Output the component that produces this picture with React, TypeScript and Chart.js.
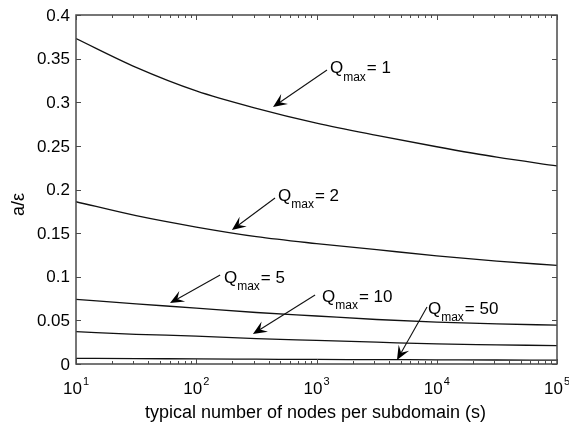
import React, { useEffect, useRef } from "react";
import { Chart, registerables } from "chart.js";

Chart.register(...registerables);

// ---- data ----
const S_VALUES = [10, 31.6, 100, 316, 1000, 3162, 10000, 31623, 100000];
const Q1 = [0.373, 0.34, 0.313, 0.293, 0.276, 0.262, 0.249, 0.237, 0.227];
const Q2 = [0.186, 0.17, 0.157, 0.146, 0.138, 0.131, 0.124, 0.118, 0.113];
const Q5 = [0.074, 0.069, 0.064, 0.059, 0.055, 0.051, 0.048, 0.046, 0.0445];
const Q10 = [0.037, 0.034, 0.032, 0.029, 0.027, 0.025, 0.023, 0.022, 0.021];
const Q50 = [0.0065, 0.0062, 0.0058, 0.0055, 0.0052, 0.005, 0.0048, 0.0046, 0.0045];

const Y_TICKS = [0, 0.05, 0.1, 0.15, 0.2, 0.25, 0.3, 0.35, 0.4];
const Y_TICK_LABELS = ["0", "0.05", "0.1", "0.15", "0.2", "0.25", "0.3", "0.35", "0.4"];
const X_DECADES = [1, 2, 3, 4, 5];
const X_TICK_BASE = "10";
const X_TITLE = "typical number of nodes per subdomain (s)";
const Y_TITLE = "a/\u03b5";

// annotations: label, text anchor, arrow tail, arrow tip (data coordinates)
const ANN_LABELS = ["1", "2", "5", "10", "50"];
const ANN_TEXT = [[1294, 0.339], [479, 0.1926], [170, 0.0986], [1112, 0.0768], [8453, 0.063]];
const ANN_TAIL = [[1223, 0.337], [452, 0.1903], [158, 0.102], [973, 0.0791], [8300, 0.0653]];
const ANN_TIP = [[435, 0.2946], [198, 0.1536], [60.5, 0.0699], [296, 0.0344], [4670, 0.0046]];

const FONT = '"Liberation Sans", Arial, Helvetica, sans-serif';
const FRAME = "#4a4a4a";

const axesPlugin = {
  id: "matlabAxes",
  afterDatasetsDraw(chart: any) {
    const { ctx, chartArea } = chart;
    const xs = chart.scales.x;
    const ys = chart.scales.y;
    const { left, right, top, bottom } = chartArea;
    ctx.save();
    // frame
    ctx.strokeStyle = FRAME;
    ctx.lineWidth = 1.5;
    ctx.strokeRect(left, top, right - left, bottom - top);
    ctx.lineWidth = 1;
    ctx.beginPath();
    // y ticks
    Y_TICKS.forEach((v) => {
      const y = Math.round(ys.getPixelForValue(v)) + 0.5;
      ctx.moveTo(left, y);
      ctx.lineTo(left + 5, y);
      ctx.moveTo(right, y);
      ctx.lineTo(right - 5, y);
    });
    // x ticks (major + minor)
    X_DECADES.forEach((d, i) => {
      const base = Math.pow(10, d);
      const x = Math.round(xs.getPixelForValue(base)) + 0.5;
      ctx.moveTo(x, bottom);
      ctx.lineTo(x, bottom - 5);
      ctx.moveTo(x, top);
      ctx.lineTo(x, top + 5);
      if (i < X_DECADES.length - 1) {
        for (let m = 2; m <= 9; m++) {
          const xm = Math.round(xs.getPixelForValue(base * m)) + 0.5;
          ctx.moveTo(xm, bottom);
          ctx.lineTo(xm, bottom - 3);
          ctx.moveTo(xm, top);
          ctx.lineTo(xm, top + 3);
        }
      }
    });
    ctx.stroke();

    // y tick labels
    ctx.fillStyle = "#000";
    ctx.font = `17px ${FONT}`;
    ctx.textAlign = "right";
    ctx.textBaseline = "middle";
    Y_TICKS.forEach((v, i) => {
      ctx.fillText(Y_TICK_LABELS[i], left - 6, ys.getPixelForValue(v) + 1);
    });

    // x tick labels: 10^d
    X_DECADES.forEach((d) => {
      const x = xs.getPixelForValue(Math.pow(10, d));
      ctx.font = `17px ${FONT}`;
      ctx.textAlign = "right";
      ctx.textBaseline = "middle";
      ctx.fillText(X_TICK_BASE, x + 6, bottom + 25);
      ctx.font = `11px ${FONT}`;
      ctx.textAlign = "left";
      ctx.fillText(String(d), x + 7, bottom + 18);
    });

    // axis titles
    ctx.font = `18px ${FONT}`;
    ctx.textAlign = "center";
    ctx.textBaseline = "middle";
    ctx.fillText(X_TITLE, (left + right) / 2 - 1, bottom + 49);
    ctx.save();
    ctx.translate(19, (top + bottom) / 2 + 15);
    ctx.rotate(-Math.PI / 2);
    ctx.fillText(Y_TITLE, 0, 0);
    ctx.restore();

    // annotations
    ANN_LABELS.forEach((lab, i) => {
      const tx = xs.getPixelForValue(ANN_TEXT[i][0]);
      const ty = ys.getPixelForValue(ANN_TEXT[i][1]);
      const ax = xs.getPixelForValue(ANN_TAIL[i][0]);
      const ay = ys.getPixelForValue(ANN_TAIL[i][1]);
      const bx = xs.getPixelForValue(ANN_TIP[i][0]);
      const by = ys.getPixelForValue(ANN_TIP[i][1]);
      // arrow shaft
      const ang = Math.atan2(by - ay, bx - ax);
      const hl = 14;
      const hw = 6;
      ctx.strokeStyle = "#111";
      ctx.lineWidth = 1.1;
      ctx.beginPath();
      ctx.moveTo(ax, ay);
      ctx.lineTo(bx - Math.cos(ang) * hl * 0.6, by - Math.sin(ang) * hl * 0.6);
      ctx.stroke();
      // arrow head
      const cx = bx - Math.cos(ang) * hl;
      const cy = by - Math.sin(ang) * hl;
      const nx = -Math.sin(ang);
      const ny = Math.cos(ang);
      ctx.fillStyle = "#000";
      ctx.beginPath();
      ctx.moveTo(bx, by);
      ctx.lineTo(cx + nx * hw, cy + ny * hw);
      ctx.lineTo(bx - Math.cos(ang) * hl * 0.6, by - Math.sin(ang) * hl * 0.6);
      ctx.lineTo(cx - nx * hw, cy - ny * hw);
      ctx.closePath();
      ctx.fill();
      // text
      ctx.textAlign = "left";
      ctx.textBaseline = "middle";
      ctx.font = `17px ${FONT}`;
      ctx.fillText("Q", tx, ty);
      const qw = ctx.measureText("Q").width;
      ctx.font = `12px ${FONT}`;
      ctx.fillText("max", tx + qw, ty + 9);
      const mw = ctx.measureText("max").width;
      ctx.font = `17px ${FONT}`;
      ctx.fillText("= " + lab, tx + qw + mw + 1, ty);
    });
    ctx.restore();
  },
};

export default function App() {
  const ref = useRef<HTMLCanvasElement | null>(null);
  useEffect(() => {
    if (!ref.current) return;
    const mk = (data: number[]) => ({
      data: S_VALUES.map((s, i) => ({ x: s, y: data[i] })),
      borderColor: "#111",
      borderWidth: 1.3,
      pointRadius: 0,
      fill: false,
      cubicInterpolationMode: "monotone" as const,
    });
    const chart = new Chart(ref.current, {
      type: "line",
      data: {
        datasets: [mk(Q1), mk(Q2), mk(Q5), mk(Q10), mk(Q50)],
      },
      options: {
        animation: false,
        responsive: false,
        maintainAspectRatio: false,
        layout: { padding: { left: 76, right: 12, top: 15, bottom: 61 } },
        plugins: { legend: { display: false }, tooltip: { enabled: false } },
        scales: {
          x: { type: "logarithmic", min: 10, max: 100000, display: false },
          y: { type: "linear", min: 0, max: 0.4, display: false },
        },
      },
      plugins: [axesPlugin],
    });
    return () => chart.destroy();
  }, []);
  return (
    <div style={{ position: "absolute", left: 0, top: 0, width: 569, height: 425, background: "#fff" }}>
      <canvas ref={ref} width={569} height={425} style={{ width: 569, height: 425 }} />
    </div>
  );
}
